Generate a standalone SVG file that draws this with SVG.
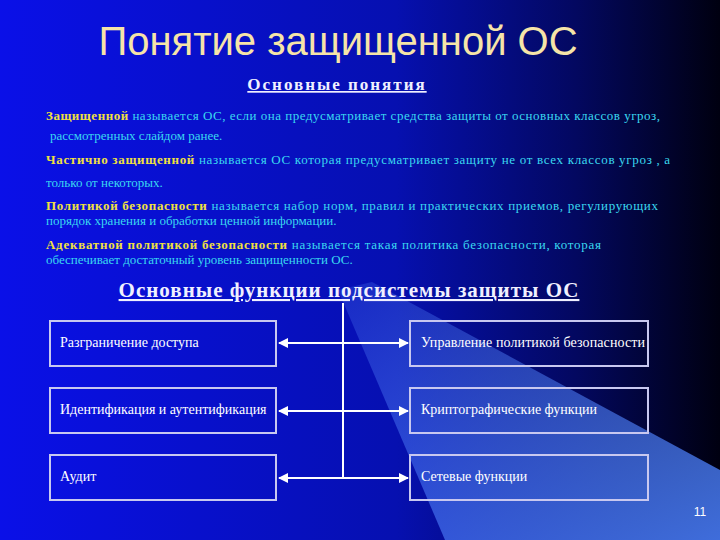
<svg xmlns="http://www.w3.org/2000/svg" width="720" height="540" viewBox="0 0 720 540">
<defs>
<linearGradient id="bg" x1="0" y1="0" x2="1" y2="0">
<stop offset="0" stop-color="#0a10e8"/><stop offset="0.55" stop-color="#0610b0"/><stop offset="0.8" stop-color="#030860"/><stop offset="1" stop-color="#000010"/>
</linearGradient>
<linearGradient id="beam" x1="0" y1="0" x2="1" y2="1">
<stop offset="0" stop-color="#5a8cff" stop-opacity="0.2"/><stop offset="1" stop-color="#4a80ff" stop-opacity="0.85"/>
</linearGradient>
<marker id="ah" viewBox="0 0 10 10" refX="9" refY="5" markerWidth="5" markerHeight="5" orient="auto-start-reverse"><path d="M0,0L10,5L0,10z" fill="#fff"/></marker>
<style>
.t{font-family:"Liberation Serif",serif;font-size:13px;fill:#3ad8f0}
.b{font-weight:bold;fill:#f0e040}
.h{font-family:"Liberation Serif",serif;font-weight:bold;fill:#f0f0ff;text-decoration:underline}
.box{fill:none;stroke:#c8c8f0;stroke-width:2}
.bt{font-family:"Liberation Serif",serif;font-size:14px;fill:#fff}
.c{stroke:#fff;stroke-width:2;fill:none}
</style>
</defs>
<rect width="720" height="540" fill="url(#bg)"/>
<polygon points="338,290 372,282 720,470 720,540 445,540" fill="url(#beam)"/>
<text x="338" y="55" text-anchor="middle" font-family="Liberation Sans,sans-serif" font-size="40" fill="#f6e4a8">Понятие защищенной ОС</text>
<text x="337" y="90" text-anchor="middle" class="h" font-size="17" letter-spacing="2">Основные понятия</text>
<text class="t" x="46" y="120" textLength="614"><tspan class="b">Защищенной</tspan> называется ОС, если она предусматривает средства защиты от основных классов угроз,</text>
<text class="t" x="50" y="140">рассмотренных слайдом ранее.</text>
<text class="t" x="46" y="164" textLength="624"><tspan class="b">Частично защищенной</tspan> называется ОС  которая предусматривает защиту не  от всех классов угроз , а</text>
<text class="t" x="46" y="187">только от некоторых.</text>
<text class="t" x="46" y="210" textLength="612"><tspan class="b">Политикой безопасности</tspan> называется набор норм, правил и практических приемов,  регулирующих</text>
<text class="t" x="46" y="225">порядок  хранения  и обработки ценной информации.</text>
<text class="t" x="46" y="249" textLength="555"><tspan class="b">Адекватной политикой безопасности</tspan> называется такая политика безопасности, которая</text>
<text class="t" x="46" y="264">обеспечивает достаточный уровень защищенности ОС.</text>
<text x="349" y="297" text-anchor="middle" class="h" font-size="21" letter-spacing="1">Основные функции подсистемы защиты ОС</text>
<g id="connectors">
<line class="c" x1="343" y1="303" x2="343" y2="478"/>
<line class="c" x1="279" y1="343" x2="408" y2="343" marker-start="url(#ah)" marker-end="url(#ah)"/>
<line class="c" x1="279" y1="411" x2="408" y2="411" marker-start="url(#ah)" marker-end="url(#ah)"/>
<line class="c" x1="279" y1="478" x2="408" y2="478" marker-start="url(#ah)" marker-end="url(#ah)"/>
</g>
<g id="n1"><rect class="box" x="50" y="321" width="226" height="45"/><text class="bt" x="60" y="347">Разграничение доступа</text></g>
<g id="n2"><rect class="box" x="50" y="388" width="226" height="45"/><text class="bt" x="60" y="414">Идентификация и аутентификация</text></g>
<g id="n3"><rect class="box" x="50" y="455" width="226" height="45"/><text class="bt" x="60" y="481">Аудит</text></g>
<g id="n4"><rect class="box" x="410" y="321" width="238" height="45"/><text class="bt" x="421" y="347" textLength="224">Управление политикой безопасности</text></g>
<g id="n5"><rect class="box" x="410" y="388" width="238" height="45"/><text class="bt" x="421" y="414">Криптографические функции</text></g>
<g id="n6"><rect class="box" x="410" y="455" width="238" height="45"/><text class="bt" x="421" y="481">Сетевые функции</text></g>
<text x="700" y="516" text-anchor="middle" font-family="Liberation Sans,sans-serif" font-size="12" fill="#fff">11</text>
</svg>
